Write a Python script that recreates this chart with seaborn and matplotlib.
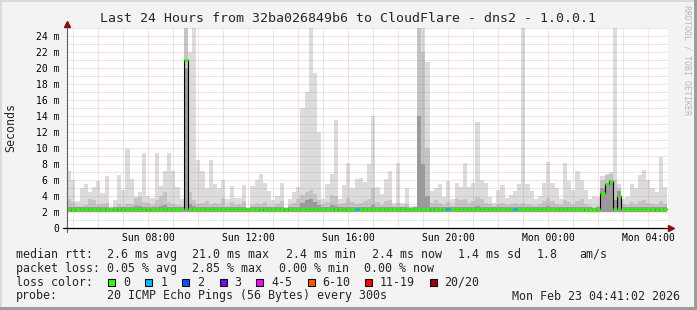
import numpy as np
import pandas as pd
import matplotlib
matplotlib.use("Agg")
import matplotlib.pyplot as plt
import seaborn as sns
from matplotlib.patches import Rectangle

# ---------------- data ----------------
start_hour = 4.75          # Sun 04:45
step_hours = 1.0 / 6.0     # 10-minute consolidated steps

median_ms = [
    2.4, 2.3, 2.4, 2.4, 2.4, 2.4, 2.4, 2.4, 2.3, 2.4, 2.4, 2.3,
    2.4, 2.3, 2.4, 2.4, 2.4, 2.4, 2.4, 2.3, 2.4, 2.4, 2.4, 2.4,
    2.4, 2.4, 2.4, 2.4, 21.0, 2.4, 2.4, 2.4, 2.4, 2.4, 2.4, 2.4,
    2.4, 2.4, 2.4, 2.4, 2.4, 2.4, 2.4, 2.4, 2.4, 2.4, 2.3, 2.4,
    2.4, 2.4, 2.4, 2.4, 2.3, 2.4, 2.4, 2.4, 2.4, 2.4, 2.4, 2.4,
    2.4, 2.4, 2.4, 2.4, 2.3, 2.4, 2.3, 2.4, 2.4, 2.4, 2.4, 2.4,
    2.4, 2.4, 2.4, 2.4, 2.4, 2.4, 2.4, 2.4, 2.4, 2.4, 2.4, 2.4,
    2.4, 2.4, 2.4, 2.3, 2.4, 2.4, 2.3, 2.4, 2.4, 2.4, 2.4, 2.4,
    2.4, 2.4, 2.4, 2.4, 2.4, 2.4, 2.4, 2.4, 2.4, 2.4, 2.4, 2.4,
    2.4, 2.4, 2.4, 2.4, 2.4, 2.4, 2.4, 2.4, 2.4, 2.4, 2.4, 2.4,
    2.4, 2.4, 2.4, 2.4, 2.3, 2.3, 2.3, 2.4, 4.4, 5.5, 5.9, 2.4,
    4.0, 2.4, 2.4, 2.4, 2.4, 2.4, 2.4, 2.4, 2.4, 2.3, 2.4, 2.4,
]

smoke_max_ms = [
    7.1, 6.0, 3.4, 5.0, 5.5, 4.5, 5.2, 5.9, 4.4, 6.5, 2.8, 3.5,
    6.7, 4.8, 9.9, 6.1, 4.0, 4.5, 9.4, 4.0, 3.8, 9.4, 5.3, 7.1,
    9.4, 7.2, 5.2, 3.6, 25.0, 22.0, 25.0, 8.5, 7.1, 5.0, 8.5, 5.5,
    5.0, 6.0, 3.6, 5.3, 3.8, 3.8, 5.4, 2.6, 5.3, 6.0, 6.8, 5.7,
    4.6, 3.5, 4.0, 5.6, 2.6, 3.6, 4.5, 5.2, 15.0, 17.0, 25.0, 19.4,
    12.0, 3.6, 5.5, 6.8, 13.5, 3.7, 5.4, 8.1, 5.0, 6.2, 6.3, 5.8,
    8.0, 14.0, 5.2, 4.3, 6.2, 7.2, 3.2, 8.2, 3.2, 5.0, 2.8, 2.8,
    25.0, 25.0, 20.8, 4.7, 5.0, 5.5, 3.9, 5.9, 3.6, 5.7, 5.2, 8.1,
    5.2, 5.7, 13.3, 6.0, 5.7, 3.9, 3.2, 4.8, 5.4, 3.8, 4.2, 4.6,
    5.5, 25.0, 5.5, 4.6, 3.7, 4.0, 5.7, 8.3, 5.6, 5.0, 3.6, 8.1,
    5.9, 4.8, 7.2, 6.0, 4.8, 3.7, 4.0, 3.9, 6.5, 6.8, 7.0, 25.0,
    5.5, 3.6, 3.9, 5.5, 5.0, 6.7, 7.3, 6.0, 5.0, 4.5, 8.9, 5.2,
]

smoke_mid_ms = [
    3.7, 3.3, 2.8, 2.8, 2.9, 3.6, 3.5, 2.9, 3.0, 3.1, 2.6, 2.7,
    3.0, 2.8, 3.0, 3.0, 3.8, 3.9, 3.3, 3.2, 2.9, 3.5, 4.0, 4.5,
    3.3, 3.0, 2.9, 2.8, 25.0, 4.5, 3.5, 3.0, 3.2, 3.4, 3.0, 3.1,
    3.0, 3.8, 2.8, 3.3, 2.9, 3.0, 3.4, 2.5, 2.9, 3.2, 3.0, 3.3,
    2.8, 2.7, 3.0, 3.4, 2.5, 2.9, 3.1, 3.6, 4.2, 4.5, 4.8, 4.3,
    3.5, 3.0, 3.3, 4.2, 4.0, 3.0, 3.2, 3.8, 3.3, 3.0, 3.2, 3.4,
    3.6, 5.0, 3.3, 2.9, 3.4, 3.5, 2.8, 3.2, 2.8, 3.0, 2.6, 2.7,
    25.0, 22.0, 10.0, 3.1, 3.5, 3.2, 2.9, 3.3, 2.8, 3.6, 3.5, 3.6,
    3.1, 3.4, 3.9, 3.6, 3.2, 3.0, 2.8, 3.0, 3.2, 2.9, 3.0, 3.2,
    3.0, 3.2, 3.0, 2.9, 2.8, 3.0, 3.4, 3.8, 3.4, 3.0, 2.9, 3.5,
    3.3, 2.9, 3.4, 3.6, 3.0, 2.8, 2.7, 2.8, 6.0, 6.6, 6.8, 6.0,
    5.0, 3.0, 2.9, 3.3, 3.0, 3.4, 3.5, 3.2, 3.0, 2.9, 3.4, 3.0,
]

smoke_core_ms = [
    2.7, 2.6, 2.6, 2.6, 2.6, 2.7, 2.7, 2.6, 2.6, 2.6, 2.5, 2.6,
    2.6, 2.6, 2.6, 2.6, 2.8, 2.8, 2.6, 2.6, 2.6, 2.6, 2.8, 2.9,
    2.6, 2.6, 2.6, 2.6, 20.0, 3.0, 2.8, 2.6, 2.6, 2.6, 2.6, 2.6,
    2.6, 2.7, 2.6, 2.6, 2.6, 2.6, 2.7, 2.5, 2.6, 2.6, 2.6, 2.6,
    2.6, 2.6, 2.6, 2.7, 2.5, 2.6, 2.6, 2.7, 3.2, 3.5, 3.6, 3.3,
    2.9, 2.6, 2.6, 2.9, 2.8, 2.6, 2.6, 2.7, 2.6, 2.6, 2.6, 2.6,
    2.7, 2.9, 2.6, 2.6, 2.6, 2.6, 2.6, 2.6, 2.6, 2.6, 2.5, 2.6,
    14.0, 8.0, 4.0, 2.6, 2.7, 2.6, 2.6, 2.6, 2.6, 2.7, 2.7, 2.7,
    2.6, 2.6, 2.8, 2.7, 2.6, 2.6, 2.6, 2.6, 2.6, 2.6, 2.6, 2.6,
    2.6, 2.6, 2.6, 2.6, 2.6, 2.6, 2.7, 2.8, 2.7, 2.6, 2.6, 2.7,
    2.6, 2.6, 2.6, 2.7, 2.6, 2.6, 2.5, 2.6, 5.0, 5.6, 6.0, 3.5,
    4.6, 2.6, 2.6, 2.6, 2.6, 2.6, 2.7, 2.6, 2.6, 2.6, 2.6, 2.6,
]

smoke_min_ms = 2.05

loss_count = [0] * 144
loss_count[69] = 1
loss_count[91] = 1
loss_count[107] = 1

loss_labels = ["0", "1", "2", "3", "4-5", "6-10", "11-19", "20/20"]
loss_upper = [0, 1, 2, 3, 5, 10, 19, 20]
loss_colors = ["#26ff00", "#00b8ff", "#0059ff", "#7e00ff",
               "#ff00ff", "#ff5500", "#ff0000", "#a10000"]

x_label_hours = [8, 12, 16, 20, 24, 28]
x_label_texts = ["Sun 08:00", "Sun 12:00", "Sun 16:00", "Sun 20:00",
                 "Mon 00:00", "Mon 04:00"]
y_label_values = list(range(0, 25, 2))
y_label_texts = ["0"] + [f"{v} m" for v in y_label_values[1:]]

title_text = "Last 24 Hours from 32ba026849b6 to CloudFlare - dns2 - 1.0.0.1"
stats_rows = [
    ("median rtt:", [(107.3, "2.6 ms avg"), (192.4, "21.0 ms max"), (285.8, "2.4 ms min"),
                     (371.6, "2.4 ms now"), (457.8, "1.4 ms sd"), (537.0, "1.8"), (579.3, "am/s")]),
    ("packet loss:", [(107.3, "0.05 % avg"), (192.4, "2.85 % max"), (279.0, "0.00 % min"),
                      (364.4, "0.00 % now")]),
]
probe_text = "20 ICMP Echo Pings (56 Bytes) every 300s"
stamp_text = "Mon Feb 23 04:41:02 2026"

# ---------------- figure ----------------
sns.set_style("white")
plt.rcParams["font.family"] = ["DejaVu Sans Mono", "DejaVu Sans"]

W, H = 697, 310
fig = plt.figure(figsize=(W / 100, H / 100), dpi=100, facecolor="#f3f3f3")


def fx(px):
    return px / W


def fy(py):
    return 1 - py / H


ax = fig.add_axes([fx(67), fy(228.3), 601 / W, 200.3 / H])
ax.set_facecolor("white")

n = len(median_ms)
edges = start_hour + np.arange(n + 1) * step_hours


def ext(a):
    a = np.asarray(a, dtype=float)
    return np.append(a, a[-1])


floor = np.full(n + 1, smoke_min_ms)
ax.fill_between(edges, floor, ext(smoke_max_ms), step="post",
                color="#dcdcdc", lw=0, zorder=1)
ax.fill_between(edges, floor, ext(smoke_mid_ms), step="post",
                color="#c4c4c4", lw=0, zorder=1.1)
ax.fill_between(edges, floor, ext(smoke_core_ms), step="post",
                color="#9a9a9a", lw=0, zorder=1.2)

# median black line
df = pd.DataFrame({"t": edges, "median": ext(median_ms)})
sns.lineplot(data=df, x="t", y="median", ax=ax, color="black", lw=0.8,
             drawstyle="steps-post", estimator=None, zorder=3)


def loss_color(c):
    for up, col in zip(loss_upper, loss_colors):
        if c <= up:
            return col
    return loss_colors[-1]


seg_colors = [loss_color(c) for c in loss_count]
ax.hlines(median_ms, edges[:-1], edges[1:], colors=seg_colors, lw=1.9, zorder=4)

# limits / ticks
ax.set_xlim(start_hour, start_hour + 24.04)
ax.set_ylim(0, 25)

major_x = np.arange(6, 29, 2)
minor_x = np.arange(5, 29, 2)
lab_map = dict(zip(x_label_hours, x_label_texts))
ax.set_xticks(major_x)
ax.set_xticklabels([lab_map.get(int(h), "") for h in major_x])
ax.set_xticks(minor_x, minor=True)
ax.set_yticks(y_label_values)
ax.set_yticklabels(y_label_texts)
ax.set_yticks(np.arange(1, 26, 2), minor=True)

ax.tick_params(axis="both", which="both", labelsize=7, colors="#000000")
ax.tick_params(axis="x", which="major", length=2.2, width=0.7, color="#ff9090", pad=1.0)
ax.tick_params(axis="x", which="minor", length=1.5, width=0.7, color="#b0b0b0")
ax.tick_params(axis="y", which="major", length=2.0, width=0.7, direction="inout",
               color="#707070", pad=4.4)
ax.tick_params(axis="y", which="minor", length=0)

ax.set_axisbelow(False)
ax.grid(which="major", color="#ff7070", alpha=0.45, lw=0.72, ls=(0, (1, 1)))
ax.grid(which="minor", color="#a0a0a0", alpha=0.5, lw=0.72, ls=(0, (1, 1)))
for s in ax.spines.values():
    s.set_visible(False)
ax.set_xlabel("")
ax.set_ylabel("")

# axis lines with arrows
ax.plot([0, 0], [-0.02, 1.02], transform=ax.transAxes, clip_on=False,
        color="#606060", lw=0.8, zorder=6)
ax.plot([0], [1.022], transform=ax.transAxes, clip_on=False, marker="^",
        ms=4.2, color="#8b1010", mec="#8b1010", zorder=7)
ax.plot([-0.0067, 1.004], [0, 0], transform=ax.transAxes, clip_on=False,
        color="black", lw=0.9, zorder=6)
ax.plot([1.005], [0], transform=ax.transAxes, clip_on=False, marker=">",
        ms=4.2, color="#8b1010", mec="#8b1010", zorder=7)

# texts
fig.text(fx(348.5), fy(19), title_text, ha="center", va="center", fontsize=9.5)
fig.text(fx(10.5), fy(127.5), "Seconds", rotation=90, ha="center", va="center",
         fontsize=8.4)
fig.text(fx(687.5), fy(5), "RRDTOOL / TOBI OETIKER", rotation=270, ha="center",
         va="top", fontsize=6, color="#b8b8b8")

row_y = [254.3, 268.3, 282.3, 296.0]
for (head, items), yy in zip(stats_rows, row_y[:2]):
    fig.text(fx(16), fy(yy), head, ha="left", va="center", fontsize=8.4)
    for xx, t in items:
        fig.text(fx(xx), fy(yy), t, ha="left", va="center", fontsize=8.4)

fig.text(fx(16), fy(row_y[2]), "loss color:", ha="left", va="center", fontsize=8.4)
box_x = [108.4, 145.3, 182.2, 219.6, 256.4, 307.6, 365.3, 429.8]
lab_x = [123.1, 160.9, 196.9, 234.2, 271.1, 322.2, 380.0, 444.4]
for bx, lx, col, lab in zip(box_x, lab_x, loss_colors, loss_labels):
    fig.add_artist(Rectangle((fx(bx), fy(row_y[2] + 3.6)), 7 / W, 7 / H,
                             transform=fig.transFigure, facecolor=col,
                             edgecolor="black", lw=0.75))
    fig.text(fx(lx), fy(row_y[2]), lab, ha="left", va="center", fontsize=8.4)

fig.text(fx(16), fy(row_y[3]), "probe:", ha="left", va="center", fontsize=8.4)
fig.text(fx(107.3), fy(row_y[3]), probe_text, ha="left", va="center", fontsize=8.4)
fig.text(fx(680), fy(row_y[3]), stamp_text, ha="right", va="center", fontsize=8.4)

# frame shading
fig.add_artist(Rectangle((0, 0), 2 / W, 1, transform=fig.transFigure,
                         facecolor="#dadada", lw=0))
fig.add_artist(Rectangle((0, 1 - 2 / H), 1, 2 / H, transform=fig.transFigure,
                         facecolor="#dadada", lw=0))
fig.add_artist(Rectangle((0, 0), 1, 3 / H, transform=fig.transFigure,
                         facecolor="#9c9c9c", lw=0))
fig.add_artist(Rectangle((1 - 3 / W, 0), 3 / W, 1, transform=fig.transFigure,
                         facecolor="#9c9c9c", lw=0))

fig.savefig("out.png", dpi=100, facecolor=fig.get_facecolor())
